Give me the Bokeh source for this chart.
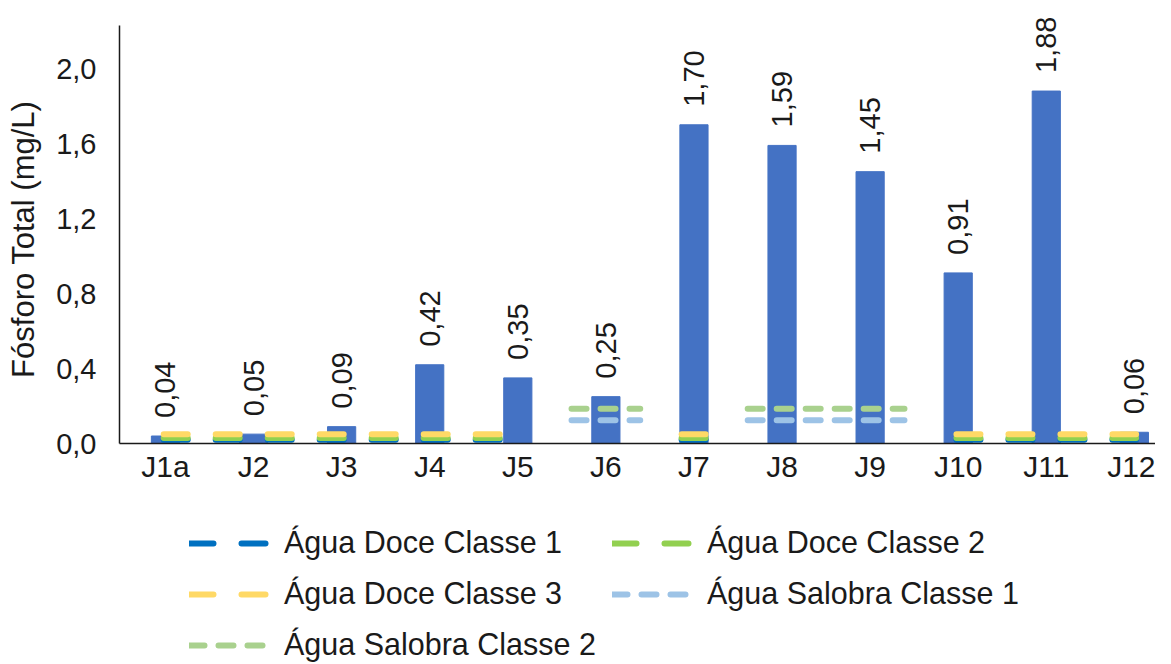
import numpy as np
from bokeh.plotting import figure
from bokeh.layouts import column
from bokeh.models import (FixedTicker, CustomJSTickFormatter, Legend, LegendItem,
                          ColumnDataSource, Range1d)
from bokeh.embed import file_html
from bokeh.resources import INLINE
from bokeh.core.properties import value

# ---------------- data ----------------
categories = ["J1a", "J2", "J3", "J4", "J5", "J6", "J7", "J8", "J9", "J10", "J11", "J12"]
fosforo_total = [0.04, 0.05, 0.09, 0.42, 0.35, 0.25, 1.70, 1.59, 1.45, 0.91, 1.88, 0.06]
agua_doce_c1 = [0.02, 0.02, 0.02, 0.02, 0.02, None, 0.02, None, None, 0.02, 0.02, 0.02]
agua_doce_c2 = [0.03, 0.03, 0.03, 0.03, 0.03, None, 0.03, None, None, 0.03, 0.03, 0.03]
agua_doce_c3 = [0.05, 0.05, 0.05, 0.05, 0.05, None, 0.05, None, None, 0.05, 0.05, 0.05]
agua_salobra_c1 = [None, None, None, None, None, 0.124, None, 0.124, 0.124, None, None, None]
agua_salobra_c2 = [None, None, None, None, None, 0.186, None, 0.186, 0.186, None, None, None]
y_ticks = [0.0, 0.4, 0.8, 1.2, 1.6, 2.0]

FONT = "Liberation Sans"
TXT = "#1a1a1a"
idx = list(range(len(categories)))


def runs(vals, pad_multi, pad_single):
    xs, ys = [], []
    i, n = 0, len(vals)
    while i < n:
        if vals[i] is None:
            i += 1
            continue
        j = i
        while j + 1 < n and vals[j + 1] is not None:
            j += 1
        pad = pad_single if i == j else pad_multi
        xs.append([i - pad, j + pad])
        ys.append([vals[i], vals[j]])
        i = j + 1
    return xs, ys


p = figure(width=1155, height=503,
           x_range=Range1d(-0.522, 11.24), y_range=Range1d(0, 2.363),
           output_backend="svg", toolbar_location=None,
           min_border_left=119, min_border_right=0, min_border_top=0,
           min_border_bottom=60)
p.xgrid.visible = False
p.ygrid.visible = False
p.outline_line_color = None

# x axis
xa = p.xaxis[0]
xa.ticker = FixedTicker(ticks=idx)
xa.major_label_overrides = {i: c for i, c in enumerate(categories)}
xa.major_tick_line_color = None
xa.minor_tick_line_color = None
xa.major_label_standoff = 0
xa.axis_line_width = 1.5
xa.axis_line_color = TXT
xa.major_label_text_font = FONT
xa.major_label_text_font_size = "30px"
xa.major_label_text_color = TXT

# y axis
ya = p.yaxis[0]
ya.ticker = FixedTicker(ticks=y_ticks)
ya.bounds = (0, 2.229)
ya.formatter = CustomJSTickFormatter(code="return tick.toFixed(1).replace('.', ',')")
ya.major_tick_line_color = None
ya.minor_tick_line_color = None
ya.major_label_standoff = 17
ya.axis_line_width = 1.5
ya.axis_line_color = TXT
ya.major_label_text_font = FONT
ya.major_label_text_font_size = "29px"
ya.major_label_text_color = TXT
ya.axis_label = "Fósforo Total (mg/L)\u00a0\u00a0\u00a0\u00a0"
ya.axis_label_text_font = FONT
ya.axis_label_text_font_size = "31px"
ya.axis_label_text_font_style = "normal"
ya.axis_label_text_color = TXT
ya.axis_label_standoff = 12

# bars
src = ColumnDataSource(dict(x=idx, top=fosforo_total,
                            lab=[f"{v:.2f}".replace(".", ",") for v in fosforo_total]))
p.vbar(x="x", top="top", width=0.32, source=src, color="#4472C4")

# threshold lines
series = [
    ("Água Doce Classe 1", agua_doce_c1, "#0070C0", "24 28", 0.02, 0.14),
    ("Água Doce Classe 2", agua_doce_c2, "#92D050", "24 28", 0.02, 0.14),
    ("Água Doce Classe 3", agua_doce_c3, "#FFD966", "24 28", 0.02, 0.14),
    ("Água Salobra Classe 1", agua_salobra_c1, "#9DC3E6", "15 14", 0.39, 0.39),
    ("Água Salobra Classe 2", agua_salobra_c2, "#A9D18E", "15 14", 0.39, 0.39),
]
for name, vals, col, dash, pm, ps in series:
    xs, ys = runs(vals, pm, ps)
    p.multi_line(xs=xs, ys=ys, line_color=col, line_width=6,
                 line_dash=dash, line_cap="round")

# value labels
p.text(x="x", y="top", text="lab", source=src, angle=np.pi / 2,
       text_align="left", text_baseline="middle", y_offset=-18,
       text_font=value(FONT), text_font_size="29px", text_color=TXT)

# ---------------- legend (separate strip below the chart) ----------------
pl = figure(width=1155, height=161, x_range=Range1d(0, 1), y_range=Range1d(0, 1),
            output_backend="svg", toolbar_location=None,
            x_axis_type=None, y_axis_type=None,
            min_border_left=0, min_border_right=0, min_border_top=0,
            min_border_bottom=0)
pl.outline_line_color = None
pl.grid.visible = False
items = []
for name, vals, col, dash, pm, ps in series:
    r = pl.multi_line(xs=[[]], ys=[[]], line_color=col, line_width=6,
                      line_dash=dash, line_cap="round")
    items.append(LegendItem(label=name, renderers=[r]))

legend = Legend(items=items, orientation="horizontal", ncols=2,
                location=(70, 2), glyph_width=80, glyph_height=34,
                label_height=34, label_standoff=15, spacing=16,
                padding=0, margin=0, border_line_color=None,
                background_fill_alpha=0, label_text_font=FONT,
                label_text_font_size="30.5px", label_text_color=TXT)
pl.add_layout(legend, "center")

layout = column(p, pl, spacing=0)
open("out.html", "w").write(file_html(layout, INLINE))
